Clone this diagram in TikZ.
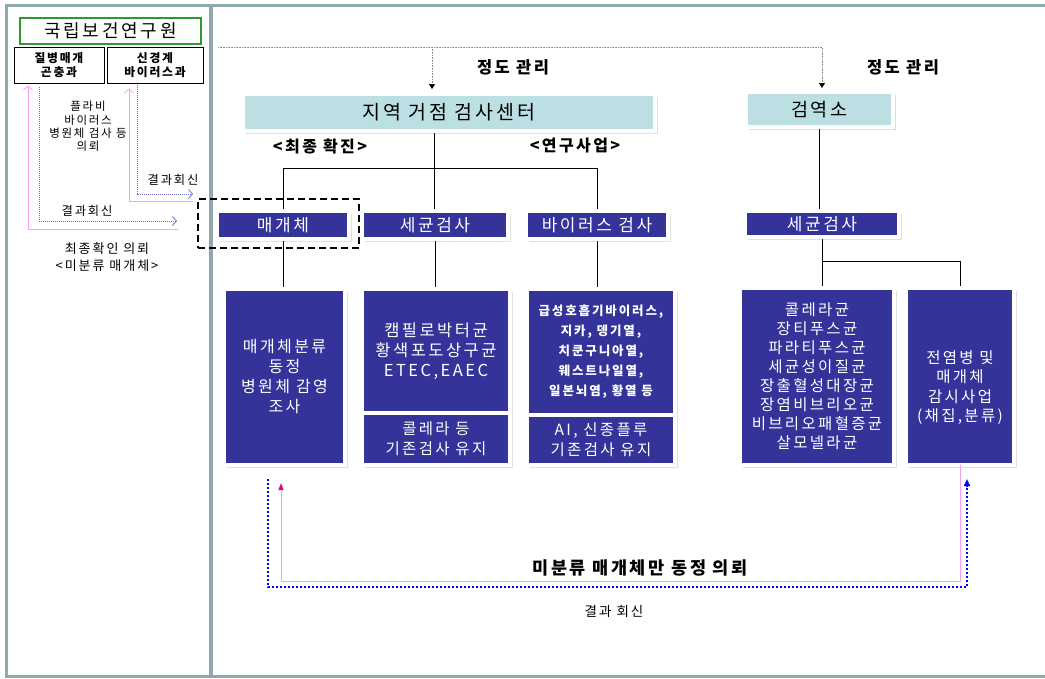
\documentclass[tikz,border=0pt]{standalone}
\usepackage{fontspec}
\setmainfont{Noto Sans CJK KR}[LetterSpace=15]
\usepackage{tikz}
\usetikzlibrary{positioning,arrows.meta,calc,fit,shadows,backgrounds}

\definecolor{framegray}{HTML}{8FA9AE}
\definecolor{hubblue}{HTML}{BCDFE3}
\definecolor{labnavy}{HTML}{333399}
\definecolor{nihgreen}{HTML}{2E9A2E}
\definecolor{askpink}{HTML}{F5A0F5}
\definecolor{replyviolet}{HTML}{7272CC}

\newcommand{\fsz}[2]{\fontsize{#1}{#2}\selectfont}

\tikzset{
  dims/.style 2 args={minimum width=#1pt, minimum height=#2pt},
  panel/.style={draw=framegray, line width=3pt},
  card/.style={draw=white, line width=4pt, outer sep=0pt, inner sep=0pt, align=center,
     drop shadow={shadow xshift=2.5pt, shadow yshift=-2.5pt, opacity=.25}},
  hub/.style={card, fill=hubblue},
  lab/.style={card, fill=labnavy, text=white},
  dept/.style={draw, line width=.9pt, align=center, font=\bfseries\fsz{11.8}{14}},
  note/.style={align=center, font=\fsz{12.3}{14}},
  tag/.style={font=\bfseries\fsz{16}{18}},
  wire/.style={line width=.8pt},
  qc/.style={draw=black!45, line width=.7pt, dash pattern=on .7pt off .9pt,
     -{Triangle[length=5pt,width=6pt,fill=black,color=black]}},
  ask/.style={draw=askpink, line width=.8pt, -{Straight Barb[length=4pt,width=9pt]}},
  reply/.style={draw=replyviolet, line width=.8pt, dash pattern=on 1pt off 1pt,
     -{Straight Barb[length=4pt,width=9pt]}},
  idreq/.style={draw=askpink, line width=1pt,
     -{Triangle[length=7pt,width=5pt,fill=magenta,color=magenta]}},
  idrep/.style={draw=blue, line width=2pt, dash pattern=on 2pt off 2pt,
     -{Triangle[length=7pt,width=6pt,fill=blue,color=blue]}},
  focus/.style={draw, line width=2.5pt, dash pattern=on 7pt off 4pt, inner sep=0pt}
}

\begin{document}
\begin{tikzpicture}[x=1pt, y=-1pt]
    \useasboundingbox (0,0) rectangle (1045,678);
    % outer frame, split into the two panels
    \draw[panel] (6.5,5) rectangle (1050,676.5);
    \draw[framegray, line width=4pt] (211,5) -- (211,676.5);

    % Left panel: institute and its two divisions
    \node[draw=nihgreen, line width=1.6pt, dims={181}{26}, font=\fsz{18}{20}] (nih) at (110.5,31) {국립보건연구원};
    \node[dept, dims={90}{36}] (deptA) at (59,65) {질병매개\\곤충과};
    \node[dept, dims={96}{36}] (deptB) at (155,65) {신경계\\바이러스과};

    % Right panel: top level centres
    \node[hub, dims={412}{37}, font=\fsz{19.5}{21}] (hub) at (449,112.5) {지역 거점 검사센터};
    \node[hub, dims={147}{35}, font=\fsz{18.5}{20}] (quar) at (819.5,109.5) {검역소};

    % second row
    \node[lab, dims={132}{28}, font=\fsz{17}{19}] (vec) at (283,225) {매개체};
    \node[lab, dims={146}{28}, font=\fsz{17}{19}] (bac) at (435,225) {세균검사};
    \node[lab, dims={142}{28}, font=\fsz{17}{19}] (vir) at (597,225) {바이러스 검사};
    \node[lab, dims={154}{26}, font=\fsz{17}{19}] (qbac) at (822,224) {세균검사};

    % third row, the detail boxes
    \node[lab, dims={121}{176}, font=\fsz{16}{20}] (vecid) at (284.5,377) {매개체분류\\동정\\병원체 감영\\조사};
    \node[lab, dims={148}{124}, font=\fsz{16.5}{20}] (bacmain) at (436,351) {캠필로박터균\\황색포도상구균\\ETEC,EAEC};
    \node[lab, dims={148}{52}, font=\fsz{15.5}{20}] (bacold) at (436,439) {콜레라 등\\기존검사 유지};
    \node[lab, dims={148}{126}, font=\bfseries\fsz{12.5}{20}] (virmain) at (601,352) {급성호흡기바이러스,\\지카, 뎅기열,\\치쿤구니아열,\\웨스트나일열,\\일본뇌염, 황열 등};
    \node[lab, dims={148}{50}, font=\fsz{15.5}{20}] (virold) at (601,440) {AI, 신종플루\\기존검사 유지};
    \node[lab, dims={154}{177}, font=\fsz{15.5}{19}] (qlist) at (817,376.5) {콜레라균\\장티푸스균\\파라티푸스균\\세균성이질균\\장출혈성대장균\\장염비브리오균\\비브리오패혈증균\\살모넬라균};
    \node[lab, dims={108}{177}] (qsurv) at (960,376.5) {};
    \node[text=white, align=center, font=\fsz{15.5}{19.3}] (qsurvtext) at ($(qsurv)+(0,11)$) {전염병 및\\매개체\\감시사업\\(채집,분류)};

    % dashed mark round the vector box
    \node[focus, fit={($(vec.north west)+(-19,-12)$) ($(vec.south east)+(10,9)$)}] (vecfocus) {};

    % tree lines, kept behind the boxes
    \begin{scope}[on background layer]
      \coordinate (split) at (434,168);
      \draw[wire] (hub.south -| split) -- (split);
      \draw[wire] (vec.north |- split) -| (vir.north);
      \draw[wire] (split) -- (bac.north -| split);
      \draw[wire] (vec.north |- split) -- (vec.north |- vecid.north);
      \draw[wire] (bac.south) -- (bac.south |- bacmain.north);
      \draw[wire] (vir.south) -- (vir.south |- virmain.north);
      \draw[wire] (quar.south) -- (quar.south |- qbac.north);
      \draw[wire] (qbac.south) -- (qbac.south |- qlist.north);
      \coordinate (qsplit) at ($(qbac.south)+(0,24)$);
      \draw[wire] (qsplit) -| (qsurv.north);
    \end{scope}

    % quality control feed from the left
    \coordinate (qcorigin) at (218,47);
    \coordinate (hubin) at ([xshift=-17pt,yshift=5pt]hub.north);
    \draw[qc] (qcorigin) -| ([xshift=2.5pt,yshift=4pt]quar.north);
    \draw[qc] (hubin |- qcorigin) -- (hubin);
    \node[tag, font=\bfseries\fsz{16.5}{18}] (qcA) at (513,67) {정도 관리};
    \node[tag, font=\bfseries\fsz{16.5}{18}] (qcB) at (903,67) {정도 관리};
    \node[tag] (finalTag) at (320,146) {<최종 확진>};
    \node[tag] (studyTag) at (575,146) {<연구사업>};

    % requests and replies with the institute
    \coordinate (askA) at (178,229);
    \coordinate (askB) at (193,201);
    \coordinate (replyA) at (177,221);
    \coordinate (replyB) at (193,194);
    \draw[ask] (askA) -| ([xshift=-31pt,yshift=-2pt]deptA.south);
    \draw[reply] ([xshift=-20pt,yshift=-4pt]deptA.south) |- (replyA);
    \draw[ask] (askB) -| ([xshift=-26pt,yshift=-5pt]deptB.south);
    \draw[reply] ([xshift=-18pt,yshift=-2pt]deptB.south) |- (replyB);
    \node[note, font=\fsz{11.5}{13.3}] (askText) at (88,126.5) {플라비\\바이러스\\병원체 검사 등\\의뢰};
    \node[note] (replyTextB) at (173,180) {결과회신};
    \node[note] (replyTextA) at (87,211) {결과회신};
    \node[note, font=\fsz{13}{17}] (finalText) at (107,257) {최종확인 의뢰\\<미분류 매개체>};

    % identification loop between quarantine and vector lab
    \draw[idreq] (qsurv.south) |- ($(vecid.south)+(-3.5,116)$) -- ($(vecid.south)+(-3.5,18)$);
    \draw[idrep] ($(vecid.south)+(-16.5,14)$) |- ($(qsurv.south)+(7,122)$) -- ($(qsurv.south)+(7,14)$);
    \node[tag, font=\bfseries\fsz{17.5}{19}] (idreqText) at (640,568) {미분류 매개체만 동정 의뢰};
    \node[note, font=\fsz{13.5}{15}] (idrepText) at (614,611) {결과 회신};
\end{tikzpicture}
\end{document}
